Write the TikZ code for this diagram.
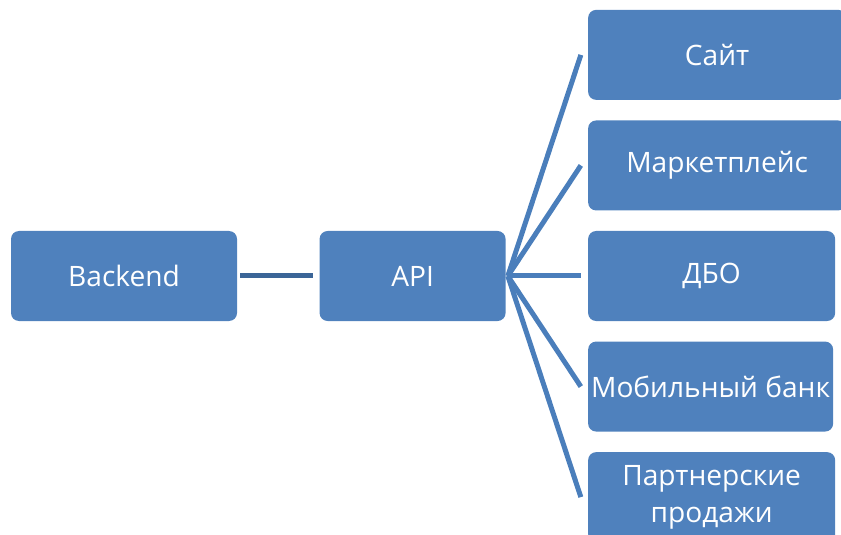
\documentclass[tikz,border=0pt]{standalone}
\usepackage{fontspec}
\setmainfont{Open Sans}
\usepackage{xcolor}
\usetikzlibrary{positioning}

\definecolor{boxblue}{HTML}{4F81BD}
\definecolor{linkblue}{HTML}{4A7EBB}
\definecolor{darklink}{HTML}{3B6597}

\begin{document}
\begin{tikzpicture}[
  font=\fontsize{20}{26}\selectfont,
  box/.style={fill=boxblue, text=white, rectangle, rounded corners=0.2cm, align=center, minimum height=2.25cm, inner xsep=2pt},
  link/.style={draw=linkblue, line width=0.125cm},
  backlink/.style={draw=darklink, line width=0.125cm}
]
\useasboundingbox (0,0) rectangle (21.025,-13.375);
\clip (0,0) rectangle (21.025,-13.375);

% Noeuds
\node[box, minimum width=5.65cm] (backend) at (3.1,-6.9) {Backend};
\node[box, minimum width=4.65cm, right=2.05cm of backend] (api) {API};

\node[box, minimum width=6.175cm, right=2.05cm of api] (dbo) {ДБО};
\node[box, minimum width=6.45cm, above=0.5cm of dbo.north west, anchor=south west] (market) {Маркетплейс};
\node[box, minimum width=6.45cm, above=0.5cm of market.north west, anchor=south west] (site) {Сайт};
\node[box, minimum width=6.125cm, below=0.5cm of dbo.south west, anchor=north west] (mobile) {Мобильный банк};
\node[box, minimum width=6.175cm, below=0.5cm of mobile.south west, anchor=north west] (partner) {Партнерские\\продажи};

% Liens
\draw[backlink] ([xshift=0.075cm]backend.east) -- ([xshift=-0.15cm]api.east -| api.west);
\foreach \target in {site, market, dbo, mobile, partner}
  \draw[link] ([xshift=0.05cm]api.east) -- ([xshift=-0.175cm]\target.west);

\end{tikzpicture}
\end{document}
